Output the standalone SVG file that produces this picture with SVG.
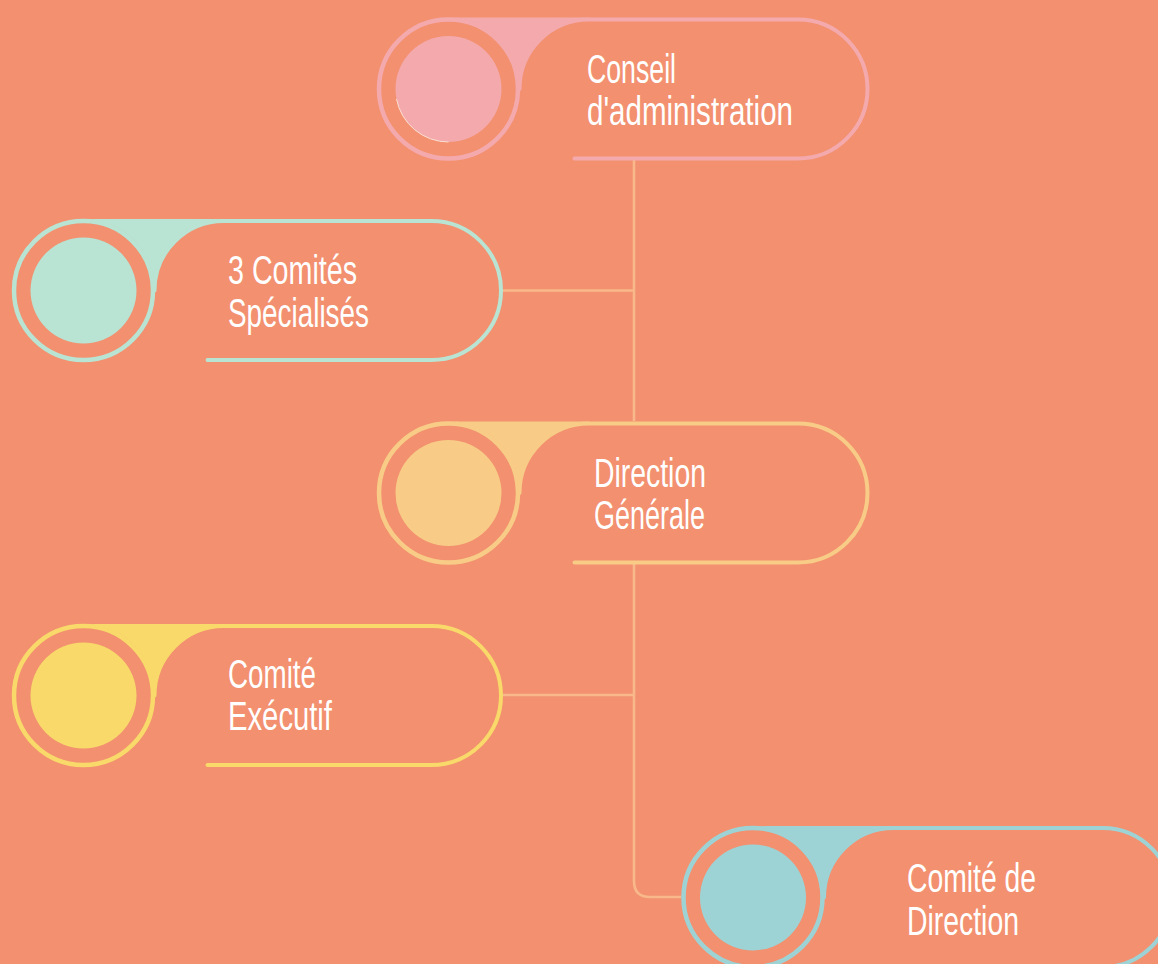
<svg xmlns="http://www.w3.org/2000/svg" width="1158" height="964" viewBox="0 0 1158 964">
<defs>
<style>
.ring{fill:none;stroke-width:4.5}
.pill{fill:none;stroke-width:4;stroke-linecap:round}
.lbl{font-family:"Liberation Sans",Arial,sans-serif;font-size:40px;fill:#ffffff}
.conn{fill:none;stroke:#F8B88A;stroke-width:2.6}
</style>
</defs>
<rect x="0" y="0" width="1158" height="964" fill="#F2906F"/>
<g id="connectors">
<path class="conn" d="M634 160 V421"/>
<path class="conn" d="M503 290.5 H634"/>
<path class="conn" d="M634 564 V881 Q634 897 650 897 H681"/>
<path class="conn" d="M503 695 H634"/>
</g>
<g id="node-conseil" transform="translate(448.5 89)">
<path d="M0 -71.5 H140.5 V-69.5 A69.5 69.5 0 0 0 71 0 A71 71 0 0 0 0 -71.5 Z" fill="#F4A9AD"/>
<circle class="ring" r="69.5" stroke="#F4A9AD"/>
<circle r="53" fill="#F4A9AD"/>
<path d="M-52 10 A53 53 0 0 0 0 53" fill="none" stroke="#FBE0D2" stroke-width="1"/>
<path class="pill" stroke="#F4A9AD" d="M126 69.5 H349.5 A69.5 69.5 0 0 0 349.5 -69.5 H140.5 A69.5 69.5 0 0 0 71 0"/>
</g>
<g id="node-conseil-text">
<text class="lbl" x="587" y="83" textLength="89" lengthAdjust="spacingAndGlyphs">Conseil</text>
<text class="lbl" x="587" y="125" textLength="206" lengthAdjust="spacingAndGlyphs">d'administration</text>
</g>
<g id="node-comites" transform="translate(83.5 290.5)">
<path d="M0 -71.5 H140.5 V-69.5 A69.5 69.5 0 0 0 71 0 A71 71 0 0 0 0 -71.5 Z" fill="#B9E3D2"/>
<circle class="ring" r="69.5" stroke="#B9E3D2"/>
<circle r="53" fill="#B9E3D2"/>
<path class="pill" stroke="#B9E3D2" d="M124 69.5 H348 A69.5 69.5 0 0 0 348 -69.5 H140.5 A69.5 69.5 0 0 0 71 0"/>
<text class="lbl" x="144.5" y="-6.5" textLength="129" lengthAdjust="spacingAndGlyphs">3 Comités</text>
<text class="lbl" x="144.5" y="36" textLength="141" lengthAdjust="spacingAndGlyphs">Spécialisés</text>
</g>
<g id="node-direction-generale" transform="translate(448.5 493)">
<path d="M0 -71.5 H140.5 V-69.5 A69.5 69.5 0 0 0 71 0 A71 71 0 0 0 0 -71.5 Z" fill="#F8CC86"/>
<circle class="ring" r="69.5" stroke="#F8CC86"/>
<circle r="53" fill="#F8CC86"/>
<path class="pill" stroke="#F8CC86" d="M126 69.5 H349.5 A69.5 69.5 0 0 0 349.5 -69.5 H140.5 A69.5 69.5 0 0 0 71 0"/>
<text class="lbl" x="145.5" y="-6" textLength="112" lengthAdjust="spacingAndGlyphs">Direction</text>
<text class="lbl" x="145.5" y="36" textLength="111" lengthAdjust="spacingAndGlyphs">Générale</text>
</g>
<g id="node-comite-executif" transform="translate(83.5 695.5)">
<path d="M0 -71.5 H140.5 V-69.5 A69.5 69.5 0 0 0 71 0 A71 71 0 0 0 0 -71.5 Z" fill="#F8D96A"/>
<circle class="ring" r="69.5" stroke="#F8D96A"/>
<circle r="53" fill="#F8D96A"/>
<path class="pill" stroke="#F8D96A" d="M124 69.5 H348 A69.5 69.5 0 0 0 348 -69.5 H140.5 A69.5 69.5 0 0 0 71 0"/>
<text class="lbl" x="144.5" y="-7.5" textLength="88" lengthAdjust="spacingAndGlyphs">Comité</text>
<text class="lbl" x="144.5" y="34" textLength="104" lengthAdjust="spacingAndGlyphs">Exécutif</text>
</g>
<g id="node-comite-direction" transform="translate(753 897.5)">
<path d="M0 -71.5 H140.5 V-69.5 A69.5 69.5 0 0 0 71 0 A71 71 0 0 0 0 -71.5 Z" fill="#9ED3D6"/>
<circle class="ring" r="69.5" stroke="#9ED3D6"/>
<circle r="53" fill="#9ED3D6"/>
<path class="pill" stroke="#9ED3D6" d="M126 69.5 H349.5 A69.5 69.5 0 0 0 349.5 -69.5 H140.5 A69.5 69.5 0 0 0 71 0"/>
<text class="lbl" x="154" y="-5.5" textLength="129" lengthAdjust="spacingAndGlyphs">Comité de</text>
<text class="lbl" x="154" y="37.5" textLength="112" lengthAdjust="spacingAndGlyphs">Direction</text>
</g>
</svg>
